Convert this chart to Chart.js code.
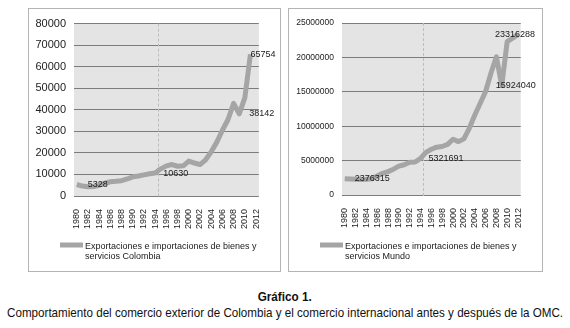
<!DOCTYPE html>
<html>
<head>
<meta charset="utf-8">
<script src="https://cdn.jsdelivr.net/npm/chart.js@4.4.1/dist/chart.umd.min.js"></script>
<style>
	body { margin: 0; width: 570px; height: 328px; overflow: hidden; position: relative; background: #fff; }
	.panel { position: absolute; top: 8px; height: 264px; border: 1px solid #b4b4b4; box-sizing: border-box; background: #fff; }
	#p1 { left: 28px; width: 253px; }
	#p2 { left: 288px; width: 255px; }
	.panel canvas { position: absolute; left: 0; top: 0; }
	.cap { position: absolute; left: 0; width: 570px; display: flex; justify-content: center; color: #111; line-height: 15px; white-space: nowrap;
		font-family: "Liberation Sans", Arial, sans-serif; }
	.cap span { flex: none; transform-origin: 50% 50%; }
	#t1 { top: 290px; font-size: 12px; font-weight: bold; }
	#t2 { top: 305px; font-size: 13px; }
</style>
</head>
<body>
<div class="panel" id="p1"><canvas id="colCanvas" width="251" height="262"></canvas></div>
<div class="panel" id="p2"><canvas id="mundoCanvas" width="253" height="262"></canvas></div>
<div class="cap" id="t1"><span>Gráfico 1.</span></div>
<div class="cap" id="t2"><span>Comportamiento del comercio exterior de Colombia y el comercio internacional antes y después de la OMC.</span></div>
<script>
var years = [1980, 1981, 1982, 1983, 1984, 1985, 1986, 1987, 1988, 1989,
	1990, 1991, 1992, 1993, 1994, 1995, 1996, 1997, 1998, 1999,
	2000, 2001, 2002, 2003, 2004, 2005, 2006, 2007, 2008, 2009,
	2010, 2011, 2012];

// Colombia (exportaciones + importaciones)
var colombia = [5328, 4600, 4300, 4400, 5000, 5900, 6600, 6800, 7100, 7900,
	8900, 9300, 9800, 10300, 10630, 12600, 14000, 14600, 13800, 14000,
	16200, 15300, 14600, 16800, 20500, 25000, 30500, 35500, 43000, 38142,
	45500, 65754, null];

// Mundo
var mundo = [2376315, 2330000, 2300000, 2250000, 2300000, 2370000, 2770000, 3150000, 3400000, 3750000,
	4200000, 4400000, 4750000, 4800000, 5321691, 6200000, 6650000, 6950000, 7050000, 7350000,
	8100000, 7760000, 8160000, 9700000, 11600000, 13300000, 15000000, 17700000, 20100000, 15924040,
	22300000, 22800000, 23316288];

var colombiaNoteYears = [1980, 1994, 2009, 2011];
var mundoNoteYears = [1980, 1994, 2009, 2012];
var omcYear = 1995;

var colombiaMax = 80000, colombiaStep = 10000;
var mundoMax = 25000000, mundoStep = 5000000;

var legendColombia = ['Exportaciones e importaciones de bienes y', 'servicios Colombia'];
var legendMundo = ['Exportaciones e importaciones de bienes y', 'servicios Mundo'];

var lineGray = '#a5a5a5';
Chart.defaults.font.family = '"Liberation Sans", Arial, sans-serif';
Chart.defaults.color = '#222';

// el pie de figura va en letra estrecha: se comprime a lo ancho
function fitCaption(id, w) {
	var s = document.querySelector('#' + id + ' span');
	s.style.transform = 'scaleX(' + (w / s.getBoundingClientRect().width) + ')';
}
fitCaption('t1', 54);
fitCaption('t2', 556);

var extras = {
	id: 'extras',
	beforeDraw: function(chart) {
		var a = chart.chartArea, c = chart.ctx;
		c.save();
		c.fillStyle = '#e4e4e4';
		c.fillRect(a.left, a.top, a.right - a.left, a.bottom - a.top);
		c.restore();
	},
	beforeDatasetsDraw: function(chart) {
		// linea punteada de la OMC, entre 1994 y 1995
		var a = chart.chartArea, c = chart.ctx, x = chart.scales.x;
		var i = years.indexOf(omcYear);
		var px = Math.round((x.getPixelForValue(i - 1) + x.getPixelForValue(i)) / 2) + 0.5;
		c.save();
		c.strokeStyle = '#bdbdbd';
		c.lineWidth = 1;
		c.setLineDash([3, 2]);
		c.beginPath();
		c.moveTo(px, a.top);
		c.lineTo(px, a.bottom + 2);
		c.stroke();
		c.restore();
	},
	afterDatasetsDraw: function(chart, args, opts) {
		var c = chart.ctx, x = chart.scales.x, y = chart.scales.y;
		var vals = chart.data.datasets[0].data;
		c.save();
		c.font = '9px "Liberation Sans", Arial, sans-serif';
		c.fillStyle = '#1a1a1a';
		c.textAlign = 'left';
		c.textBaseline = 'middle';
		opts.notes.forEach(function(yr, k) {
			var i = years.indexOf(yr);
			c.fillText(String(vals[i]), x.getPixelForValue(i) + opts.dx[k], y.getPixelForValue(vals[i]) + opts.dy[k]);
		});
		c.restore();
	},
	afterDraw: function(chart, args, opts) {
		var c = chart.ctx;
		c.save();
		c.strokeStyle = lineGray;
		c.lineWidth = 5;
		c.beginPath();
		c.moveTo(31, 236);
		c.lineTo(54, 236);
		c.stroke();
		c.font = '9px "Liberation Sans", Arial, sans-serif';
		c.fillStyle = '#1a1a1a';
		c.textBaseline = 'middle';
		opts.legend.forEach(function(t, k) {
			c.fillText(t, 56, 238 + k * 10);
		});
		c.restore();
	}
};

function makeChart(id, values, cfg) {
	return new Chart(document.getElementById(id), {
		type: 'line',
		data: {
			labels: years,
			datasets: [{
				label: cfg.legend.join(' '),
				data: values,
				borderColor: lineGray,
				borderWidth: 5,
				borderJoinStyle: 'round',
				pointRadius: 0,
				tension: 0,
				fill: false
			}]
		},
		options: {
			responsive: false,
			animation: false,
			layout: { padding: { top: 14, right: 12, left: 0, bottom: 0 } },
			plugins: {
				legend: { display: false },
				tooltip: { enabled: false },
				extras: { notes: cfg.notes, dx: cfg.dx, dy: cfg.dy, legend: cfg.legend }
			},
			scales: {
				x: {
					offset: true,
					grid: { display: false, drawTicks: false },
					border: { display: false },
					ticks: {
						autoSkip: false, minRotation: 90, maxRotation: 90, padding: 13,
						font: { size: 9 },
						callback: function(v, i) { return i % 2 ? '' : years[i]; }
					},
					afterFit: function(s) { s.height = cfg.xHeight; }
				},
				y: {
					min: 0,
					max: cfg.max,
					grid: { color: '#7c7c7c', drawTicks: false },
					border: { display: false },
					ticks: {
						stepSize: cfg.step, padding: 8,
						font: { size: cfg.tickSize },
						callback: function(v) { return String(v); }
					},
					afterFit: function(s) { s.width = cfg.yWidth; }
				}
			}
		},
		plugins: [extras]
	});
}

makeChart('colCanvas', colombia, {
	max: colombiaMax, step: colombiaStep, tickSize: 11, yWidth: 45, xHeight: 75,
	notes: colombiaNoteYears, dx: [11, 8, 10, 0], dy: [0, 0, 0, 0], legend: legendColombia
});
makeChart('mundoCanvas', mundo, {
	max: mundoMax, step: mundoStep, tickSize: 8.5, yWidth: 53, xHeight: 76,
	notes: mundoNoteYears, dx: [10, 8, -6, -23], dy: [0, 0, 0, 0], legend: legendMundo
});
</script>
</body>
</html>
